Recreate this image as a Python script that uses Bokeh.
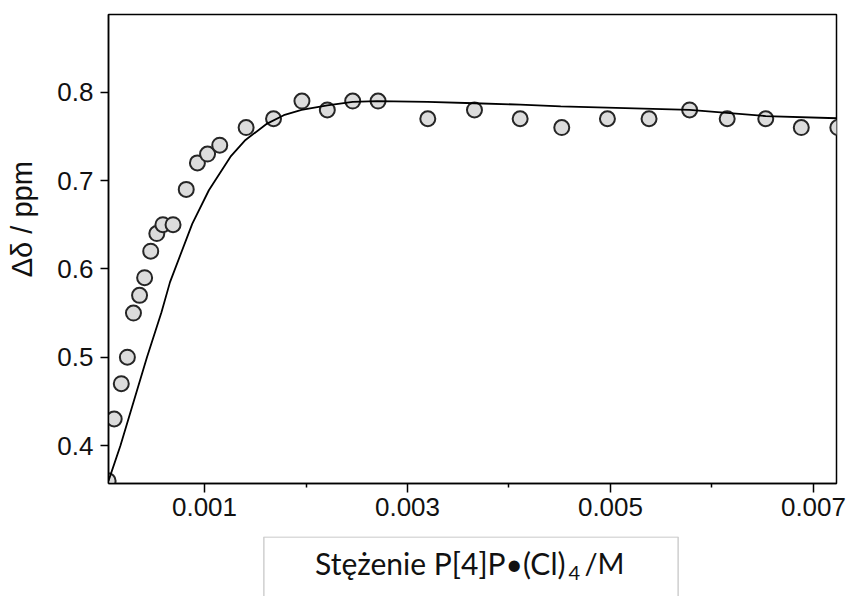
from bokeh.plotting import figure
from bokeh.models import Range1d, FixedTicker, NumeralTickFormatter, Label
from bokeh.layouts import column, row
from bokeh.embed import file_html
from bokeh.resources import INLINE
import math

# Measured titration points (concentration / M, chemical-shift change / ppm)
conc = [0.00005, 0.00011, 0.00018, 0.00024, 0.00030, 0.00036, 0.00041, 0.00047,
        0.00053, 0.00059, 0.00069, 0.00082, 0.00093, 0.00103, 0.00115, 0.00141,
        0.00168, 0.00196, 0.00221, 0.00246, 0.00271, 0.00320, 0.00366, 0.00411,
        0.00452, 0.00497, 0.00538, 0.00578, 0.00615, 0.00653, 0.00688, 0.00724]
shift = [0.36, 0.43, 0.47, 0.50, 0.55, 0.57, 0.59, 0.62,
         0.64, 0.65, 0.65, 0.69, 0.72, 0.73, 0.74, 0.76,
         0.77, 0.79, 0.78, 0.79, 0.79, 0.77, 0.78, 0.77,
         0.76, 0.77, 0.77, 0.78, 0.77, 0.77, 0.76, 0.76]

# Fitted curve
fit_x = [0.000054, 0.000172, 0.000433, 0.000576, 0.000660, 0.000879, 0.001043,
         0.001256, 0.001404, 0.001617, 0.001781, 0.001956, 0.00221, 0.00246,
         0.00270, 0.00320, 0.00366, 0.00411, 0.00451, 0.00578, 0.00653, 0.00724]
fit_y = [0.360, 0.400, 0.500, 0.551, 0.585, 0.651, 0.689,
         0.727, 0.746, 0.7645, 0.774, 0.780, 0.785, 0.789,
         0.790, 0.789, 0.7875, 0.786, 0.784, 0.780, 0.773, 0.7705]

x_major = [0.001, 0.003, 0.005, 0.007]
x_minor = [0.002, 0.004, 0.006]
y_major = [0.4, 0.5, 0.6, 0.7, 0.8]

y_title = "Δδ / ppm"
x_title_main = "Stężenie P[4]P•(Cl)"
x_title_sub = "4"
x_title_end = "/M"

FONT = "Liberation Sans"
TITLE_FONT = "Lato"
INK = "#111111"

TOP_H = 536
LEFT_W = 44

# ---- strip holding the rotated y title ----
pl = figure(width=LEFT_W, height=TOP_H, output_backend="svg", toolbar_location=None,
            x_axis_type=None, y_axis_type=None,
            x_range=Range1d(0, LEFT_W), y_range=Range1d(0, TOP_H),
            min_border=0, min_border_left=0, min_border_right=0,
            min_border_top=0, min_border_bottom=0)
pl.grid.visible = False
pl.outline_line_color = None
pl.background_fill_color = "white"
pl.border_fill_color = "white"
pl.add_layout(Label(x=21, y=TOP_H - 234, text=y_title, angle=math.pi / 2,
                    text_align="center", text_baseline="middle", text_font=FONT,
                    text_font_size="29px", text_color=INK))

# ---- main chart ----
p = figure(width=848 - LEFT_W, height=TOP_H, output_backend="svg",
           toolbar_location=None,
           x_range=Range1d(0.000054, 0.007227), y_range=Range1d(0.357, 0.888),
           min_border_left=108 - LEFT_W, min_border_right=12, min_border_top=14,
           min_border_bottom=TOP_H - 483)
p.grid.visible = False
p.background_fill_color = "white"
p.border_fill_color = "white"
p.outline_line_color = "black"
p.outline_line_width = 1.5
p.outline_line_alpha = 1.0

p.xaxis.ticker = FixedTicker(ticks=x_major, minor_ticks=x_minor)
p.yaxis.ticker = FixedTicker(ticks=y_major, minor_ticks=[])
p.xaxis.formatter = NumeralTickFormatter(format="0.000")
p.yaxis.formatter = NumeralTickFormatter(format="0.0")

for ax in (p.xaxis[0], p.yaxis[0]):
    ax.axis_line_color = "black"
    ax.axis_line_width = 1.5
    ax.major_tick_line_color = "black"
    ax.major_tick_line_width = 1.5
    ax.minor_tick_line_color = "black"
    ax.minor_tick_line_width = 1.5
    ax.major_tick_in = 0
    ax.minor_tick_in = 0
    ax.major_label_text_font = FONT
    ax.major_label_text_font_size = "26px"
    ax.major_label_text_color = INK

p.xaxis.major_tick_out = 9
p.xaxis.minor_tick_out = 4
p.xaxis.major_label_standoff = 5
p.yaxis.major_tick_out = 8
p.yaxis.minor_tick_out = 0
p.yaxis.major_label_standoff = 7

p.scatter(conc, shift, marker="circle", size=15, fill_color="#dcdcdc",
          line_color="#262626", line_width=2)
p.line(fit_x, fit_y, line_color="black", line_width=1.8)

# ---- strip holding the boxed x title ----
BOT_H = 596 - TOP_H
pb = figure(width=848, height=BOT_H, output_backend="svg", toolbar_location=None,
            x_axis_type=None, y_axis_type=None,
            x_range=Range1d(0, 848), y_range=Range1d(0, BOT_H),
            min_border=0, min_border_left=0, min_border_right=0,
            min_border_top=0, min_border_bottom=0)
pb.grid.visible = False
pb.outline_line_color = None
pb.background_fill_color = "white"
pb.border_fill_color = "white"
pb.add_layout(Label(x=470.5, y=BOT_H - 41, text=" ", text_font_size="1px",
                    text_align="center", text_baseline="middle",
                    padding=dict(left=207, right=207, top=40, bottom=40),
                    background_fill_color="white",
                    border_line_color="#cfcfcf", border_line_width=1.5))
pb.add_layout(Label(x=565, y=34, text=x_title_main, text_align="right",
                    text_baseline="alphabetic", text_font=TITLE_FONT,
                    text_font_size="30px", text_color=INK))
pb.add_layout(Label(x=568, y=24, text=x_title_sub, text_align="left",
                    text_baseline="alphabetic", text_font=TITLE_FONT,
                    text_font_size="20px", text_color=INK))
pb.add_layout(Label(x=584, y=34, text=x_title_end, text_align="left",
                    text_baseline="alphabetic", text_font=TITLE_FONT,
                    text_font_size="29px", text_color=INK))

layout = column(row(pl, p, spacing=0), pb, spacing=0)
open("out.html", "w").write(file_html(layout, INLINE))
